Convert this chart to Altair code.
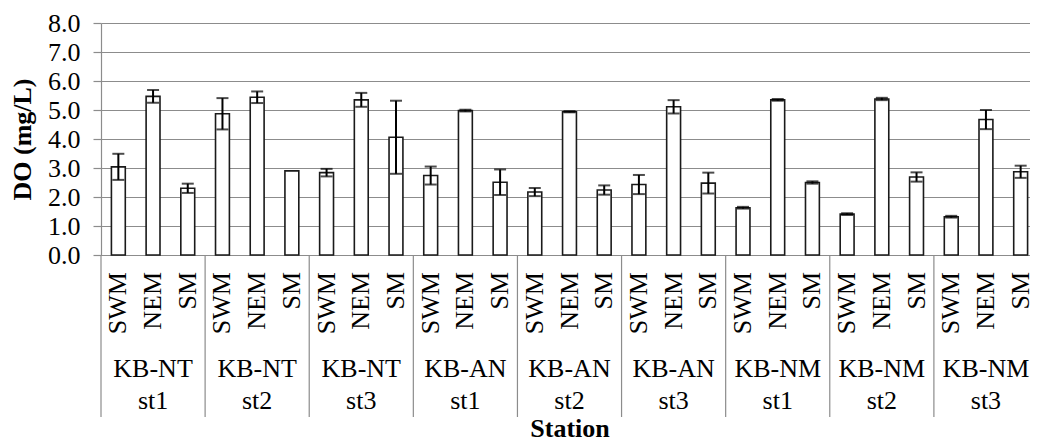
import altair as alt
import pandas as pd

# ---- data ----
sites = ["KB-NT", "KB-NT", "KB-NT", "KB-AN", "KB-AN", "KB-AN", "KB-NM", "KB-NM", "KB-NM"]
subs = ["st1", "st2", "st3", "st1", "st2", "st3", "st1", "st2", "st3"]
seasons = ["SWM", "NEM", "SM"]
do_swm = [3.04, 4.87, 2.84, 2.74, 2.17, 2.43, 1.63, 1.41, 1.32]
do_nem = [5.47, 5.44, 5.35, 4.98, 4.94, 5.11, 5.35, 5.38, 4.67]
do_sm = [2.30, 2.90, 4.06, 2.51, 2.24, 2.48, 2.50, 2.69, 2.87]
sd_swm = [0.45, 0.54, 0.13, 0.31, 0.14, 0.33, 0.03, 0.03, 0.03]
sd_nem = [0.22, 0.20, 0.24, 0.03, 0.02, 0.23, 0.03, 0.04, 0.33]
sd_sm = [0.16, 0.00, 1.26, 0.44, 0.16, 0.36, 0.04, 0.16, 0.21]
y_ticks = [0, 1, 2, 3, 4, 5, 6, 7, 8]

means = {"SWM": do_swm, "NEM": do_nem, "SM": do_sm}
sds = {"SWM": sd_swm, "NEM": sd_nem, "SM": sd_sm}

rows = []
for i in range(len(sites)):
    for s in seasons:
        m = means[s][i]
        d = sds[s][i]
        rows.append({
            "key": f"{sites[i]} {subs[i]}|{s}",
            "site": sites[i], "sub": subs[i], "season": s,
            "mean": m, "sd": d, "lo": m - d, "hi": m + d,
        })
df = pd.DataFrame(rows)
keys = list(df["key"])
err_df = df[df["sd"] > 0]
grp_df = df[df["season"] == "NEM"]
sep_df = df[df["season"] == "SWM"]

FONT = "Liberation Serif, Times New Roman, serif"
GRID = "#8c8c8c"

# the plot runs slightly past the right edge of the picture, as in the reference
xscale = alt.Scale(domain=keys, range=[0, 937], paddingInner=0, paddingOuter=0)
xaxis = alt.Axis(labels=False, ticks=False, domainColor=GRID, domainWidth=1.2,
                 title="Station", titleFont=FONT, titleFontSize=26, titleFontWeight="bold",
                 titleColor="black", titleX=468.5, titleY=181, titleAlign="center",
                 titleBaseline="alphabetic")


def X(**kw):
    return alt.X("key:N", scale=xscale, sort=None, axis=xaxis, **kw)


yscale = alt.Scale(domain=[0, 8], nice=False)
yaxis = alt.Axis(values=y_ticks, format=".1f", grid=True, gridColor=GRID, gridWidth=1.2,
                 domainColor=GRID, domainWidth=1.2, tickColor=GRID, tickSize=8, tickWidth=1.2,
                 labelFont=FONT, labelFontSize=26, labelColor="black", labelPadding=13,
                 title="DO (mg/L)", titleFont=FONT, titleFontSize=26, titleFontWeight="bold",
                 titleColor="black", titleAngle=270, titleX=-79, titleY=116,
                 titleAlign="center", titleBaseline="middle")

bars = alt.Chart(df).mark_bar(
    width=alt.RelativeBandSize(0.4), fill="white", stroke="#1a1a1a", strokeWidth=1.6
).encode(x=X(), y=alt.Y("mean:Q", scale=yscale, axis=yaxis))

err_line = alt.Chart(err_df).mark_rule(color="black", strokeWidth=2).encode(
    x=X(), y=alt.Y("lo:Q", scale=yscale, axis=yaxis), y2="hi:Q")
cap_hi = alt.Chart(err_df).mark_tick(color="black", size=12, thickness=2).encode(
    x=X(), y=alt.Y("hi:Q", scale=yscale, axis=yaxis))
cap_lo = alt.Chart(err_df).mark_tick(color="black", size=12, thickness=2).encode(
    x=X(), y=alt.Y("lo:Q", scale=yscale, axis=yaxis))

season_txt = alt.Chart(df).mark_text(
    font=FONT, fontSize=26, angle=270, align="right", baseline="middle", color="black"
).encode(x=X(), y=alt.value(249), text="season:N")

site_txt = alt.Chart(grp_df).mark_text(
    font=FONT, fontSize=26, align="center", baseline="alphabetic", color="black"
).encode(x=X(), y=alt.value(354), text="site:N")

sub_txt = alt.Chart(grp_df).mark_text(
    font=FONT, fontSize=26, align="center", baseline="alphabetic", color="black"
).encode(x=X(), y=alt.value(386), text="sub:N")

seps = alt.Chart(sep_df).mark_rule(color=GRID, strokeWidth=1.2).encode(
    x=X(bandPosition=0), y=alt.value(232), y2=alt.value(394))

chart = alt.layer(
    bars, err_line, cap_hi, cap_lo, season_txt, site_txt, sub_txt, seps
).properties(
    width=929, height=232,
    padding={"left": 93, "top": 15, "right": 0, "bottom": 182},
    autosize=alt.AutoSizeParams(type="none"),
    background="white",
).configure_view(stroke=None)

chart.save("out.html", embed_options={"renderer": "svg", "actions": False})
